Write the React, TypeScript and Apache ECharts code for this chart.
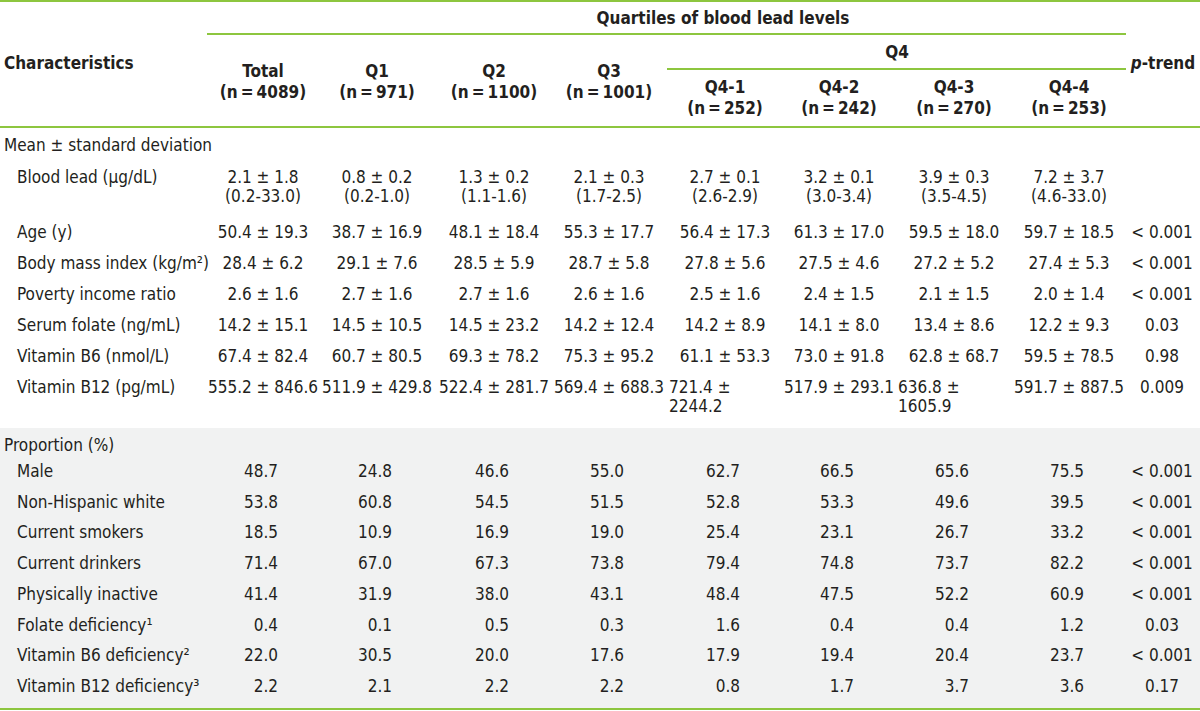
import React, { useEffect, useRef } from "react";
import * as echarts from "echarts";

// ---------- DATA ----------
const groupTitle = "Quartiles of blood lead levels";
const q4Title = "Q4";
const columns = ["Total", "Q1", "Q2", "Q3", "Q4-1", "Q4-2", "Q4-3", "Q4-4"];
const columnN = [4089, 971, 1100, 1001, 252, 242, 270, 253];

const meanSectionTitle = "Mean \u00b1 standard deviation";
const meanLabels = [
  "Blood lead (\u03bcg/dL)",
  "Age (y)",
  "Body mass index (kg/m\u00b2)",
  "Poverty income ratio",
  "Serum folate (ng/mL)",
  "Vitamin B6 (nmol/L)",
  "Vitamin B12 (pg/mL)",
];
const bloodLeadMean = [2.1, 0.8, 1.3, 2.1, 2.7, 3.2, 3.9, 7.2];
const bloodLeadSd = [1.8, 0.2, 0.2, 0.3, 0.1, 0.1, 0.3, 3.7];
const bloodLeadRange = ["0.2-33.0", "0.2-1.0", "1.1-1.6", "1.7-2.5", "2.6-2.9", "3.0-3.4", "3.5-4.5", "4.6-33.0"];
const ageMean = [50.4, 38.7, 48.1, 55.3, 56.4, 61.3, 59.5, 59.7];
const ageSd = [19.3, 16.9, 18.4, 17.7, 17.3, 17.0, 18.0, 18.5];
const bmiMean = [28.4, 29.1, 28.5, 28.7, 27.8, 27.5, 27.2, 27.4];
const bmiSd = [6.2, 7.6, 5.9, 5.8, 5.6, 4.6, 5.2, 5.3];
const pirMean = [2.6, 2.7, 2.7, 2.6, 2.5, 2.4, 2.1, 2.0];
const pirSd = [1.6, 1.6, 1.6, 1.6, 1.6, 1.5, 1.5, 1.4];
const folateMean = [14.2, 14.5, 14.5, 14.2, 14.2, 14.1, 13.4, 12.2];
const folateSd = [15.1, 10.5, 23.2, 12.4, 8.9, 8.0, 8.6, 9.3];
const b6Mean = [67.4, 60.7, 69.3, 75.3, 61.1, 73.0, 62.8, 59.5];
const b6Sd = [82.4, 80.5, 78.2, 95.2, 53.3, 91.8, 68.7, 78.5];
const b12Mean = [555.2, 511.9, 522.4, 569.4, 721.4, 517.9, 636.8, 591.7];
const b12Sd = [846.6, 429.8, 281.7, 688.3, 2244.2, 293.1, 1605.9, 887.5];
const meanPTrend = ["", "< 0.001", "< 0.001", "< 0.001", "0.03", "0.98", "0.009"];

const propSectionTitle = "Proportion (%)";
const propLabels = [
  "Male",
  "Non-Hispanic white",
  "Current smokers",
  "Current drinkers",
  "Physically inactive",
  "Folate deficiency\u00b9",
  "Vitamin B6 deficiency\u00b2",
  "Vitamin B12 deficiency\u00b3",
];
const male = [48.7, 24.8, 46.6, 55.0, 62.7, 66.5, 65.6, 75.5];
const nonHispanicWhite = [53.8, 60.8, 54.5, 51.5, 52.8, 53.3, 49.6, 39.5];
const currentSmokers = [18.5, 10.9, 16.9, 19.0, 25.4, 23.1, 26.7, 33.2];
const currentDrinkers = [71.4, 67.0, 67.3, 73.8, 79.4, 74.8, 73.7, 82.2];
const physicallyInactive = [41.4, 31.9, 38.0, 43.1, 48.4, 47.5, 52.2, 60.9];
const folateDeficiency = [0.4, 0.1, 0.5, 0.3, 1.6, 0.4, 0.4, 1.2];
const b6Deficiency = [22.0, 30.5, 20.0, 17.6, 17.9, 19.4, 20.4, 23.7];
const b12Deficiency = [2.2, 2.1, 2.2, 2.2, 0.8, 1.7, 3.7, 3.6];
const propPTrend = ["< 0.001", "< 0.001", "< 0.001", "< 0.001", "< 0.001", "0.03", "< 0.001", "0.17"];

// ---------- LAYOUT / STYLE ----------
const W = 1200;
const H = 711;
const GREEN = "#8dc63f";
const TEXT = "#231f20";
const GRAY = "#f1f2f2";
const FONT = "'Liberation Sans Narrow', 'DejaVu Sans Condensed', 'Arial Narrow', sans-serif";
const FS = 17;
const colCenter = [263, 377, 494, 609, 725, 839, 954, 1069];
const colHalf = 56;
const propRightOffset = 15;
const pCenter = 1162;
const meanRowY = [177, 232, 263, 294, 325, 356, 387];
const propFirstY = 471;
const propStep = 30.7;
const lineGap = 19;

function txt(text: string, x: number, y: number, opts: any = {}) {
  const align = opts.align || "left";
  return {
    type: "text",
    x,
    y,
    silent: true,
    style: {
      text,
      fill: TEXT,
      fontFamily: FONT,
      fontSize: opts.fontSize || FS,
      fontWeight: opts.bold ? "bold" : "normal",
      align,
      textAlign: align,
      verticalAlign: "middle",
      textVerticalAlign: "middle",
      rich: opts.rich,
    },
  };
}

function hline(x1: number, x2: number, y: number, w = 2) {
  return {
    type: "line",
    silent: true,
    shape: { x1, y1: y, x2, y2: y },
    style: { stroke: GREEN, lineWidth: w },
  };
}

function buildElements() {
  const els: any[] = [];
  // background for proportion section
  els.push({ type: "rect", silent: true, shape: { x: 0, y: 428, width: W, height: 281 }, style: { fill: GRAY } });

  // rules
  els.push(hline(0, W, 1));
  els.push(hline(207, 1126, 34));
  els.push(hline(667, 1126, 69));
  els.push(hline(0, W, 127));
  els.push(hline(0, W, 709));

  // header
  els.push(txt("Characteristics", 4, 63, { bold: true }));
  els.push(txt(groupTitle, 723, 18, { bold: true, align: "center" }));
  els.push(txt(q4Title, 897, 52, { bold: true, align: "center" }));
  els.push(
    txt("{i|p}-trend", 1163, 63, {
      bold: true,
      align: "center",
      rich: { i: { fontStyle: "italic", fontWeight: "bold", fontFamily: FONT, fontSize: FS, fill: TEXT } },
    })
  );
  columns.forEach((c, i) => {
    const isQ4 = i >= 4;
    const y1 = isQ4 ? 87 : 71;
    els.push(txt(c, colCenter[i], y1, { bold: true, align: "center" }));
    els.push(txt(`(n\u2009=\u2009${columnN[i]})`, colCenter[i], y1 + 21, { bold: true, align: "center" }));
  });

  // mean section
  els.push(txt(meanSectionTitle, 4, 145));
  const means = [bloodLeadMean, ageMean, bmiMean, pirMean, folateMean, b6Mean, b12Mean];
  const sds = [bloodLeadSd, ageSd, bmiSd, pirSd, folateSd, b6Sd, b12Sd];
  meanLabels.forEach((label, r) => {
    const y = meanRowY[r];
    els.push(txt(label, 17, y));
    means[r].forEach((m, i) => {
      const a = m.toFixed(1);
      const b = sds[r][i].toFixed(1);
      const full = `${a} \u00b1 ${b}`;
      if (full.length > 13) {
        els.push(txt(`${a} \u00b1`, colCenter[i] - colHalf, y));
        els.push(txt(b, colCenter[i] - colHalf, y + lineGap));
      } else {
        els.push(txt(full, colCenter[i], y, { align: "center" }));
      }
      if (r === 0) {
        els.push(txt(`(${bloodLeadRange[i]})`, colCenter[i], y + lineGap, { align: "center" }));
      }
    });
    if (meanPTrend[r]) els.push(txt(meanPTrend[r], pCenter, y, { align: "center" }));
  });

  // proportion section
  els.push(txt(propSectionTitle, 4, 445));
  const props = [male, nonHispanicWhite, currentSmokers, currentDrinkers, physicallyInactive, folateDeficiency, b6Deficiency, b12Deficiency];
  propLabels.forEach((label, r) => {
    const y = propFirstY + r * propStep;
    els.push(txt(label, 17, y));
    props[r].forEach((v, i) => {
      els.push(txt(v.toFixed(1), colCenter[i] + propRightOffset, y, { align: "right" }));
    });
    els.push(txt(propPTrend[r], pCenter, y, { align: "center" }));
  });
  return els;
}

export default function App() {
  const ref = useRef<HTMLDivElement>(null);
  useEffect(() => {
    document.body.style.margin = "0";
    const chart = echarts.init(ref.current!, undefined, { renderer: "svg", width: W, height: H });
    chart.setOption({
      animation: false,
      backgroundColor: "#ffffff",
      graphic: { elements: buildElements() },
    });
    return () => chart.dispose();
  }, []);
  return <div ref={ref} style={{ width: W, height: H, position: "absolute", left: 0, top: 0 }} />;
}
